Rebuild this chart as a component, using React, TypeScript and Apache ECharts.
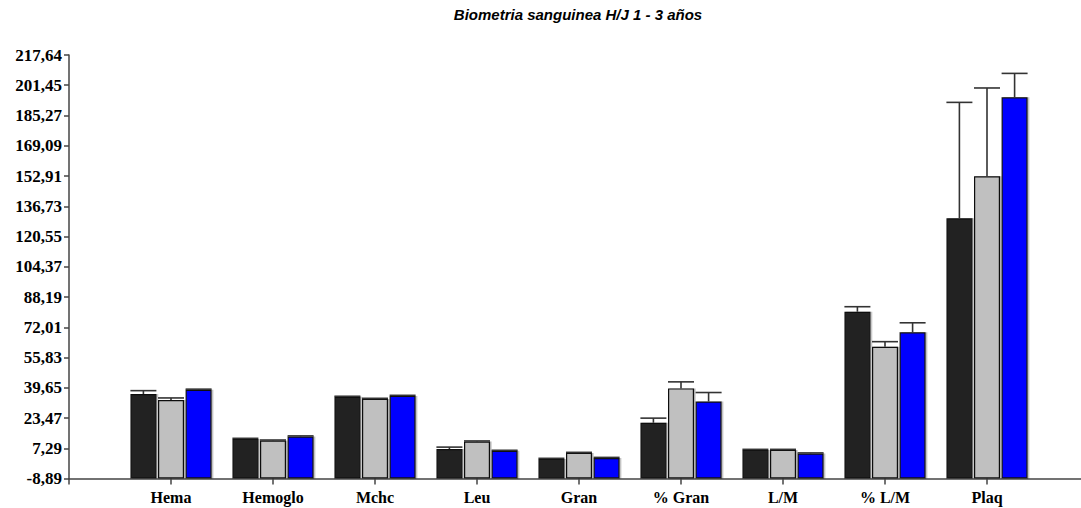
import React, { useEffect, useRef } from "react";
import * as echarts from "echarts";

const categories = ["Hema", "Hemoglo", "Mchc", "Leu", "Gran", "% Gran", "L/M", "% L/M", "Plaq"];
const seriesNames = ["Grupo 1", "Grupo 2", "Grupo 3"];
const group1 = [36.3, 12.3, 34.8, 6.9, 1.6, 20.9, 6.4, 80.3, 130.3];
const group2 = [33.1, 11.4, 33.7, 10.9, 4.8, 39.3, 6.4, 61.6, 152.8];
const group3 = [38.6, 13.6, 35.3, 5.9, 2.1, 32.3, 4.5, 69.3, 195.0];
const err1 = [1.8, 0.3, 0.3, 1.0, 0.3, 2.5, 0.3, 2.7, 62.0];
const err2 = [1.1, 0.3, 0.3, 0.3, 0.3, 3.5, 0.3, 2.7, 47.2];
const err3 = [0.3, 0.3, 0.3, 0.3, 0.3, 4.8, 0.3, 5.1, 12.8];
const yTickLabels = [
  "-8,89", "7,29", "23,47", "39,65", "55,83", "72,01", "88,19", "104,37",
  "120,55", "136,73", "152,91", "169,09", "185,27", "201,45", "217,64",
];
const yMin = -8.89;
const yMax = 217.64;
const title = "Biometria sanguinea H/J 1 - 3 años";

const colors = ["#232323", "#c0c0c0", "#0000ff"];
const BAR_W = 26;
const BAR_STEP = 27.6;

export default function App() {
  const ref = useRef<HTMLDivElement>(null);
  useEffect(() => {
    if (!ref.current) return;
    const chart = echarts.init(ref.current, undefined, { renderer: "svg" });
    const span = yMax - yMin;
    const interval = span / (yTickLabels.length - 1);
    const offset = -yMin;
    const axisCats = ["", ...categories, ""];
    const groups = [group1, group2, group3];
    const errs = [err1, err2, err3];

    const barSeries = groups.map((g, k) => ({
      name: seriesNames[k],
      type: "bar",
      barWidth: BAR_W,
      barGap: "6%",
      data: ["-", ...g.map((v) => v + offset), "-"],
      itemStyle: {
        color: colors[k],
        borderColor: "#111",
        borderWidth: 1.2,
        shadowColor: "rgba(0,0,0,0.3)",
        shadowOffsetX: 1.5,
        shadowOffsetY: 0,
        shadowBlur: 0,
      },
      z: 2,
    }));

    const errData: number[][] = [];
    groups.forEach((g, k) => {
      g.forEach((v, i) => {
        errData.push([i + 1, v + offset, v + errs[k][i] + offset, k]);
      });
    });

    const errSeries = {
      type: "custom",
      data: errData,
      z: 3,
      renderItem: (params: any, api: any) => {
        const ci = api.value(0);
        const k = api.value(3);
        const p0 = api.coord([ci, api.value(1)]);
        const p1 = api.coord([ci, api.value(2)]);
        const x = p0[0] + (k - 1) * BAR_STEP;
        const style = { stroke: "#333", lineWidth: 1.6 };
        return {
          type: "group",
          children: [
            { type: "line", shape: { x1: x, y1: p0[1], x2: x, y2: p1[1] }, style },
            { type: "line", shape: { x1: x - BAR_W / 2, y1: p1[1], x2: x + BAR_W / 2, y2: p1[1] }, style },
          ],
        };
      },
    };

    chart.setOption({
      animation: false,
      backgroundColor: "#fff",
      grid: { left: 69, top: 55, bottom: 29.5, right: -8, outerBoundsMode: "none", containLabel: false },
      graphic: [
        {
          type: "text",
          x: 578,
          y: 7,
          style: {
            text: title,
            fontFamily: "Liberation Sans",
            fontStyle: "italic",
            fontWeight: "bold",
            fontSize: 15,
            fill: "#000",
            textAlign: "center",
            textVerticalAlign: "top",
          },
        },
      ],
      xAxis: {
        type: "category",
        data: axisCats,
        boundaryGap: false,
        axisLine: { show: true, lineStyle: { color: "#444", width: 1.5 } },
        axisTick: {
          show: true,
          length: 6,
          interval: (i: number) => i < axisCats.length - 1,
          lineStyle: { color: "#444", width: 1.5 },
        },
        axisLabel: {
          interval: 0,
          color: "#000",
          fontFamily: "Liberation Serif",
          fontWeight: "bold",
          fontSize: 16,
          margin: 11,
        },
        splitLine: { show: false },
      },
      yAxis: {
        type: "value",
        min: 0,
        max: span,
        interval,
        axisLine: { show: true, lineStyle: { color: "#444", width: 1.5 } },
        axisTick: { show: true, length: 5, lineStyle: { color: "#444", width: 1.5 } },
        axisLabel: {
          color: "#000",
          fontFamily: "Liberation Serif",
          fontWeight: "bold",
          fontSize: 17,
          margin: 7,
          formatter: (v: number) => yTickLabels[Math.round(v / interval)] ?? "",
        },
        splitLine: { show: false },
      },
      series: [...barSeries, errSeries],
    });
    return () => chart.dispose();
  }, []);
  return (
    <div
      ref={ref}
      style={{ position: "fixed", left: 0, top: 0, width: 1081, height: 508, background: "#fff" }}
    />
  );
}
